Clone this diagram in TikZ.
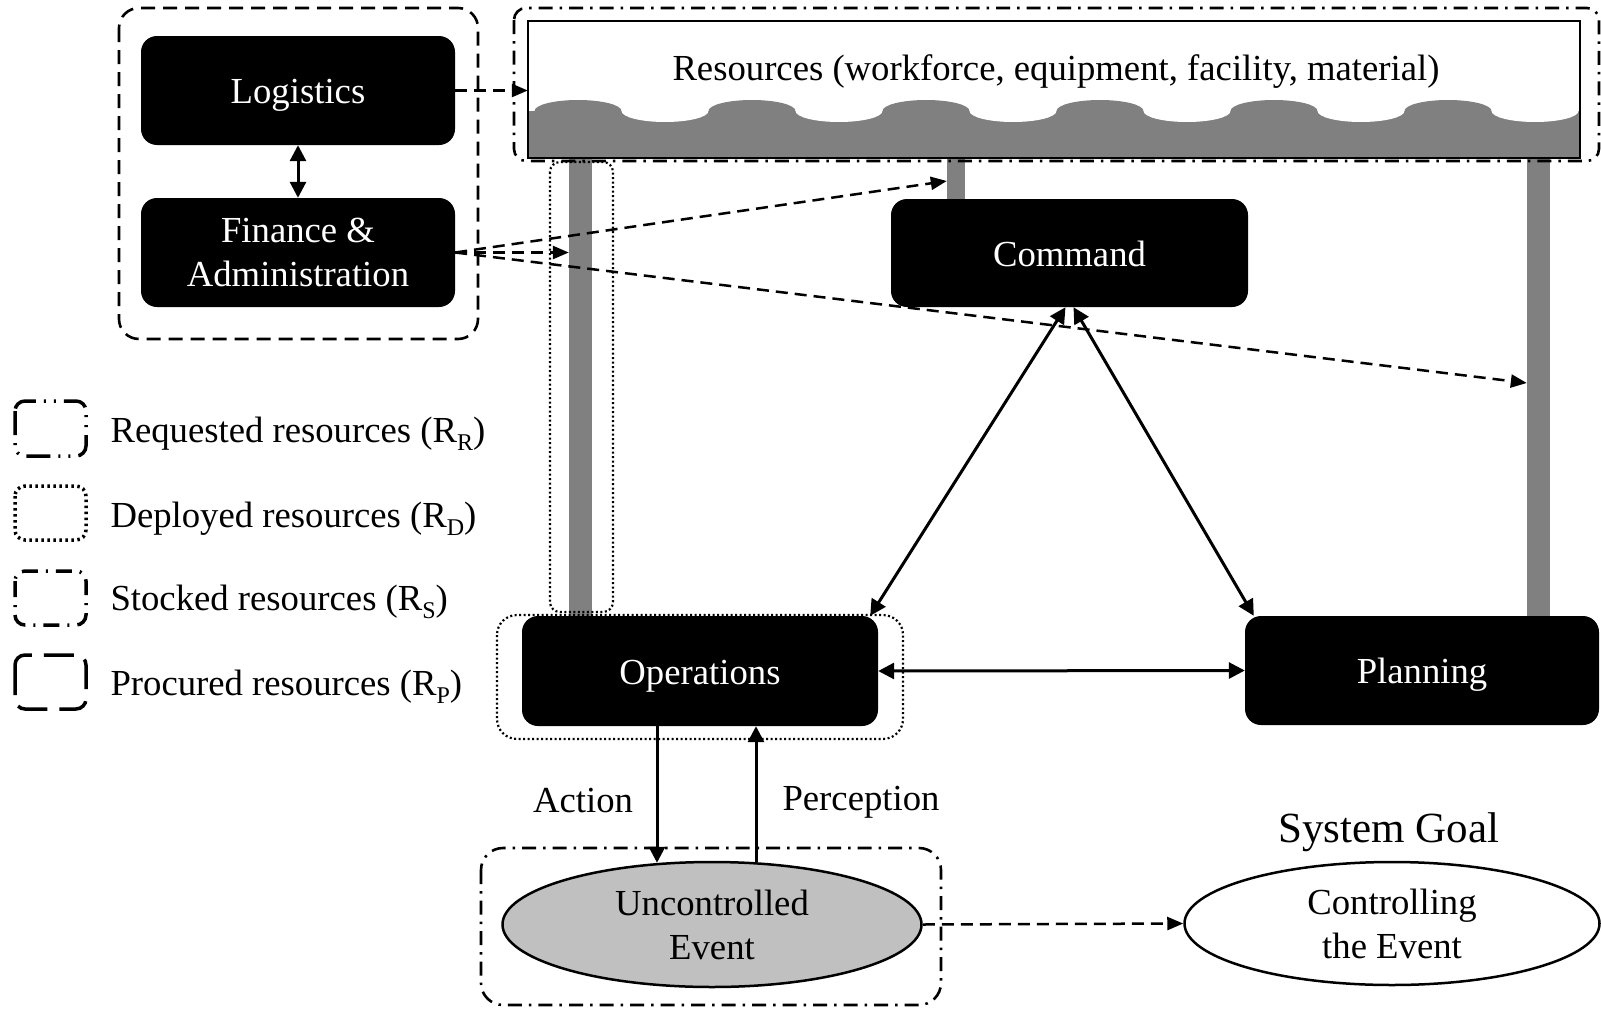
\documentclass[tikz,border=0pt]{standalone}
\usepackage{fontspec}
\setmainfont{Liberation Serif}
\usetikzlibrary{arrows.meta,shapes.geometric,calc}
\definecolor{postgray}{HTML}{808080}
\definecolor{eventgray}{HTML}{C0C0C0}
\newcommand{\labelfont}{\fontsize{36.7}{44}\selectfont}
\newcommand{\goalfont}{\fontsize{43}{50}\selectfont}
\newcommand{\rsub}[1]{\raisebox{-8pt}{\fontsize{24}{24}\selectfont #1}}

\begin{document}
\begin{tikzpicture}[x=1pt,y=-1pt,
  font=\labelfont,
  blackbox/.style={fill=black, text=white, rounded corners=16pt, inner sep=0pt, align=center},
  onebox/.style={blackbox, text height=26pt, text depth=0pt},
  post/.style={fill=postgray, inner sep=0pt, anchor=north},
  oval/.style={ellipse, draw, line width=2.5pt, inner sep=0pt, align=center},
  linkarrow/.style={line width=3pt, {Triangle[length=16pt,width=16pt]}-{Triangle[length=16pt,width=16pt]}},
  flowarrow/.style={line width=3pt, -{Triangle[length=16pt,width=16pt]}},
  supply/.style={line width=2.5pt, dash pattern=on 12pt off 7pt, -{Triangle[length=16pt,width=13pt]}},
  procured/.style={line width=2.6pt, rounded corners=20pt, dash pattern=on 14pt off 8pt},
  stocked/.style={line width=2.6pt, dash pattern=on 14pt off 7pt on 2.5pt off 7pt},
  deployed/.style={line width=2.2pt, dash pattern=on 2pt off 2.5pt},
  legreq/.style={line width=3.5pt, rounded corners=10pt, dash pattern=on 24pt off 8pt on 2pt off 8pt on 2pt off 8pt},
  legdep/.style={line width=3.5pt, rounded corners=10pt, dash pattern=on 2.5pt off 3.5pt},
  legsto/.style={line width=3.5pt, rounded corners=10pt, dash pattern=on 16pt off 8pt on 2pt off 8pt},
  legpro/.style={line width=3.5pt, rounded corners=10pt, dash pattern=on 30pt off 12pt},
]
\useasboundingbox (0,0) rectangle (1601,1009);

% supporting posts under the resource pool
\node[post, minimum width=23pt, minimum height=458pt] (lpost) at (580.5,158) {};
\node[post, minimum width=18pt, minimum height=41pt] (mpost) at (956,158) {};
\node[post, minimum width=23pt, minimum height=458pt] (rpost) at (1538.5,158) {};

% resource pool with its wavy level
\node[minimum width=1052pt, minimum height=137pt, inner sep=0pt] (res) at (1054,89.5) {};
\begin{scope}
  \clip (res.south west) rectangle (res.north east);
  \fill[postgray] (528,111) rectangle (1580,158);
  \foreach \k in {0,...,5}{
    \fill[postgray] ({578+174*\k},111) ellipse [x radius=43.5, y radius=11];
    \fill[white] ({665+174*\k},111) ellipse [x radius=43.5, y radius=11];
  }
\end{scope}
\draw[line width=2.5pt] (res.south west) rectangle (res.north east);
\node[anchor=base] (restext) at (1056,80) {Resources (workforce, equipment, facility, material)};
\draw[stocked, rounded corners=12pt] (514,8) rectangle (1599,161);

% deployed resources
\draw[deployed, rounded corners=10pt] (550,162) rectangle (613,612);
\draw[deployed, rounded corners=20pt] (497,615) rectangle (903,739);

% procured resources
\draw[procured] (119,8) rectangle (478,339);

% functions
\node[onebox, minimum width=314pt, minimum height=109pt] (log) at (298,90.5) {Logistics};
\node[blackbox, minimum width=314pt, minimum height=109pt] (fin) at (298,252.5) {Finance \&\\Administration};
\node[onebox, minimum width=357pt, minimum height=108pt] (cmd) at (1069.5,253) {Command};
\node[onebox, minimum width=356pt, minimum height=110pt] (ops) at (700,671) {Operations};
\node[onebox, minimum width=354pt, minimum height=109pt] (plan) at (1422,670.5) {Planning};

% event and goal
\node[oval, fill=eventgray, minimum width=419pt, minimum height=125pt] (ev) at (712,924.5) {Uncontrolled\\Event};
\node[oval, minimum width=415pt, minimum height=123pt] (ctrl) at (1392,923.5) {Controlling\\the Event};
\draw[stocked, rounded corners=22pt] (481,848) rectangle (941,1005);
\node[anchor=base, font=\goalfont] (goal) at (1389,842) {System Goal};

% labels of the action loop
\node[anchor=base] (act) at (583,812) {Action};
\node[anchor=base] (perc) at (861,810) {Perception};

% resource flows
\draw[supply] (log.east) -- (log.east -| res.west);
\draw[supply] (fin.east) -- ($(mpost.north west)+(0,23)$);
\draw[supply] (fin.east) -- (lpost.west |- fin.east);
\draw[supply] (fin.east) -- ($(rpost.north west)+(0,225)$);
\draw[supply] (ev.east) -- (ctrl.west);

% links between functions
\draw[linkarrow] (log.south) -- (fin.north);
\draw[linkarrow] ($(cmd.south)+(-4,0)$) -- ($(ops.north east)+(-8,0)$);
\draw[linkarrow] ($(cmd.south)+(4,0)$) -- ($(plan.north west)+(9,0)$);
\draw[linkarrow] (ops.east) -- (plan.west);

% action and perception
\coordinate (actfoot) at ($(ops.south)+(-43,0)$);
\coordinate (percfoot) at ($(ops.south)+(56,0)$);
\draw[flowarrow] (actfoot) -- ($(actfoot |- ev.north)+(0,2)$);
\draw[flowarrow] ($(percfoot |- ev.north)+(0,1)$) -- (percfoot);

% legend
\draw[legreq] (15,401) rectangle (86,456);
\node[anchor=base west] (lreq) at (107,442) {Requested resources (R\rsub{R})};
\draw[legdep] (15,486) rectangle (86,540);
\node[anchor=base west] (ldep) at (107,527) {Deployed resources (R\rsub{D})};
\draw[legsto] (15,571) rectangle (86,625);
\node[anchor=base west] (lsto) at (107,610) {Stocked resources (R\rsub{S})};
\draw[legpro] (15,655) rectangle (86,709);
\node[anchor=base west] (lpro) at (107,695) {Procured resources (R\rsub{P})};
\end{tikzpicture}
\end{document}
